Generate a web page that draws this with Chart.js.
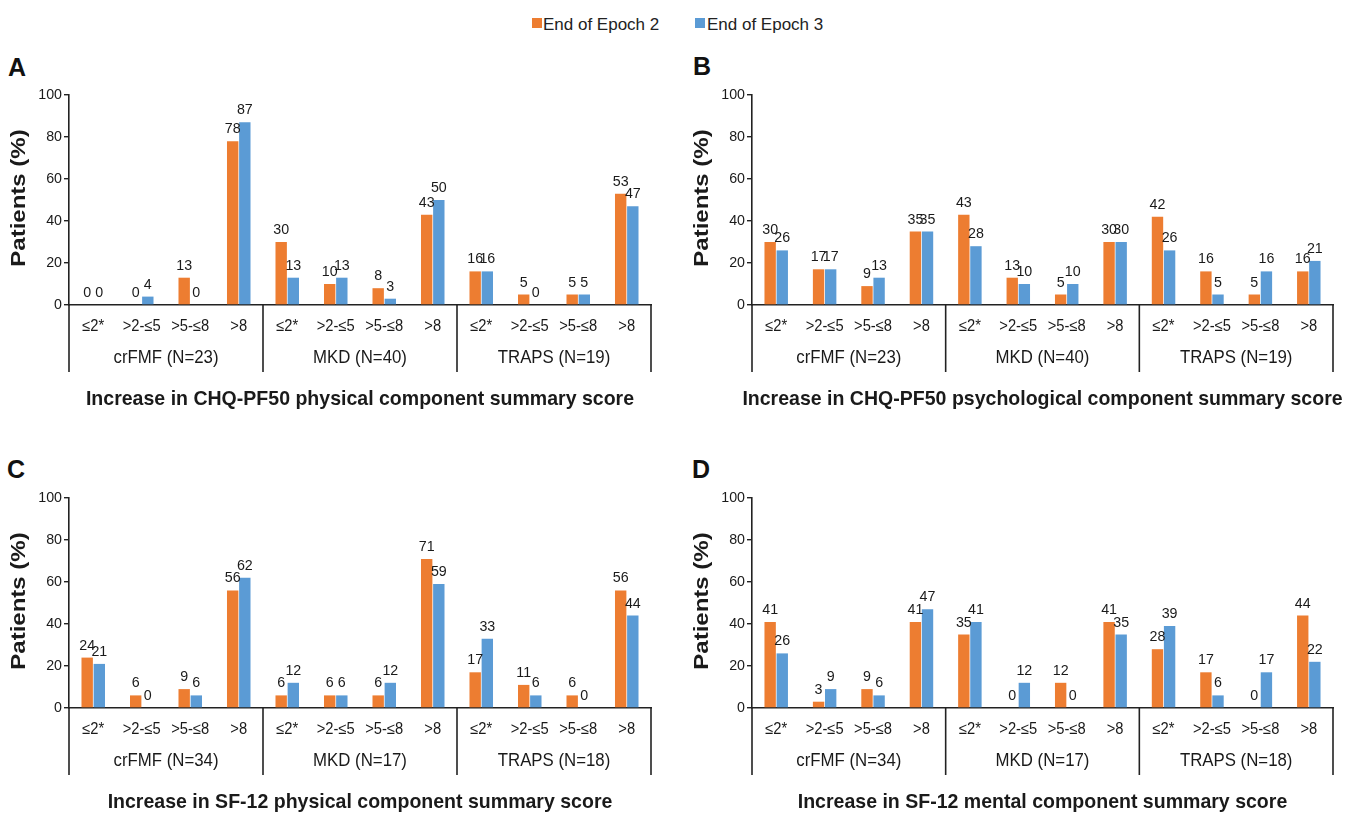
<!DOCTYPE html>
<html>
<head>
<meta charset="utf-8">
<script src="https://cdn.jsdelivr.net/npm/chart.js@4.4.1/dist/chart.umd.min.js"></script>
<style>
html,body{margin:0;padding:0;background:#ffffff;}
body{width:1359px;height:816px;position:relative;overflow:hidden;font-family:"Liberation Sans",Arial,sans-serif;color:#1a1a1a;}
canvas{position:absolute;}
.letter{position:absolute;font-weight:bold;font-size:25px;line-height:25px;color:#111;}
.lg-sq{position:absolute;width:10px;height:10px;top:18px;}
.lg-tx{position:absolute;top:16px;font-size:17px;line-height:17px;color:#222;white-space:nowrap;}
</style>
</head>
<body>
<div class="lg-sq" style="left:532px;background:#ED7D31"></div>
<div class="lg-tx" style="left:543px">End of Epoch 2</div>
<div class="lg-sq" style="left:695px;background:#5B9BD5"></div>
<div class="lg-tx" style="left:707px">End of Epoch 3</div>

<div class="letter" style="left:8px;top:55px">A</div>
<div class="letter" style="left:693px;top:54px">B</div>
<div class="letter" style="left:7px;top:457px">C</div>
<div class="letter" style="left:692px;top:457px">D</div>

<canvas id="cA" width="680" height="373" style="left:0px;top:40px"></canvas>
<canvas id="cB" width="679" height="373" style="left:680px;top:40px"></canvas>
<canvas id="cC" width="680" height="373" style="left:0px;top:443px"></canvas>
<canvas id="cD" width="679" height="373" style="left:680px;top:443px"></canvas>

<script>
// ---------- data ----------
const categories = ['≤2*', '>2-≤5', '>5-≤8', '>8'];
const groupsAB = ['crFMF (N=23)', 'MKD (N=40)', 'TRAPS (N=19)'];
const groupsCD = ['crFMF (N=34)', 'MKD (N=17)', 'TRAPS (N=18)'];
const seriesNames = ['End of Epoch 2', 'End of Epoch 3'];
const yTicks = [0, 20, 40, 60, 80, 100];
const yTitle = 'Patients (%)';

const titleA = 'Increase in CHQ-PF50 physical component summary score';
const titleB = 'Increase in CHQ-PF50 psychological component summary score';
const titleC = 'Increase in SF-12 physical component summary score';
const titleD = 'Increase in SF-12 mental component summary score';

const epoch2A = [0, 0, 13, 78, 30, 10, 8, 43, 16, 5, 5, 53];
const epoch3A = [0, 4, 0, 87, 13, 13, 3, 50, 16, 0, 5, 47];
const epoch2B = [30, 17, 9, 35, 43, 13, 5, 30, 42, 16, 5, 16];
const epoch3B = [26, 17, 13, 35, 28, 10, 10, 30, 26, 5, 16, 21];
const epoch2C = [24, 6, 9, 56, 6, 6, 6, 71, 17, 11, 6, 56];
const epoch3C = [21, 0, 6, 62, 12, 6, 12, 59, 33, 6, 0, 44];
const epoch2D = [41, 3, 9, 41, 35, 0, 12, 41, 28, 17, 0, 44];
const epoch3D = [26, 9, 6, 47, 41, 12, 0, 35, 39, 6, 17, 22];

// ---------- styling ----------
const ORANGE = '#ED7D31';
const BLUE = '#5B9BD5';
const INK = '#1a1a1a';
const FAM = '"Liberation Sans", Arial, sans-serif';

function txt(ctx, s, x, y, font, align, base, sx, rot) {
  ctx.save();
  ctx.translate(x, y);
  if (rot) ctx.rotate(rot);
  ctx.scale(sx || 1, 1);
  ctx.font = font;
  ctx.textAlign = align;
  ctx.textBaseline = base;
  ctx.fillStyle = INK;
  ctx.fillText(s, 0, 0);
  ctx.restore();
}

const decorPlugin = {
  id: 'decor',
  afterDraw(chart, args, opts) {
    const ctx = chart.ctx;
    const ca = chart.chartArea;
    const xs = chart.scales.x;
    const ys = chart.scales.y;
    const base = ys.getPixelForValue(0);

    // y tick labels
    ys.ticks.forEach(t => {
      txt(ctx, String(t.value), ca.left - 7, ys.getPixelForValue(t.value), '15px ' + FAM, 'right', 'middle', 0.95);
    });
    // y title
    txt(ctx, yTitle, ca.left - 49.5, (ca.top + ca.bottom) / 2 - 2, 'bold 20px ' + FAM, 'center', 'middle', 1.2, -Math.PI / 2);

    // category labels
    const n = chart.data.labels.length;
    for (let i = 0; i < n; i++) {
      txt(ctx, chart.data.labels[i], xs.getPixelForValue(i), base + 22, '16px ' + FAM, 'center', 'middle', 0.92);
    }
    // group labels + separators
    ctx.save();
    ctx.strokeStyle = '#222';
    ctx.lineWidth = 1.6;
    const seps = [ca.left];
    for (let g = 1; g < opts.groups.length; g++) {
      seps.push((xs.getPixelForValue(g * 4 - 1) + xs.getPixelForValue(g * 4)) / 2);
    }
    seps.push(ca.right);
    seps.forEach(x => {
      ctx.beginPath();
      ctx.moveTo(x, base);
      ctx.lineTo(x, base + 67);
      ctx.stroke();
    });
    ctx.restore();
    opts.groups.forEach((g, gi) => {
      const cx = (xs.getPixelForValue(gi * 4) + xs.getPixelForValue(gi * 4 + 3)) / 2;
      txt(ctx, g, cx, base + 53, '17.5px ' + FAM, 'center', 'middle', 0.96);
    });
    // x title
    txt(ctx, opts.title, (ca.left + ca.right) / 2, base + 94, 'bold 21px ' + FAM, 'center', 'middle', 0.93);

    // value labels
    chart.data.datasets.forEach((ds, di) => {
      const meta = chart.getDatasetMeta(di);
      meta.data.forEach((bar, i) => {
        txt(ctx, String(ds.data[i]), bar.x, bar.y - 8, '15px ' + FAM, 'center', 'alphabetic', 0.95);
      });
    });
  }
};

const panels = [
  { id: 'cA', title: titleA, groups: groupsAB, e2: epoch2A, e3: epoch3A, leftW: 69, padR: 29 },
  { id: 'cB', title: titleB, groups: groupsAB, e2: epoch2B, e3: epoch3B, leftW: 72, padR: 26 },
  { id: 'cC', title: titleC, groups: groupsCD, e2: epoch2C, e3: epoch3C, leftW: 69, padR: 29 },
  { id: 'cD', title: titleD, groups: groupsCD, e2: epoch2D, e3: epoch3D, leftW: 72, padR: 26 }
];

panels.forEach(p => {
  const labels = [];
  p.groups.forEach(() => categories.forEach(c => labels.push(c)));
  new Chart(document.getElementById(p.id), {
    type: 'bar',
    data: {
      labels: labels,
      datasets: [
        { label: seriesNames[0], data: p.e2, backgroundColor: ORANGE, borderWidth: 0 },
        { label: seriesNames[1], data: p.e3, backgroundColor: BLUE, borderWidth: 0 }
      ]
    },
    options: {
      responsive: false,
      animation: false,
      events: [],
      layout: { padding: { top: 55, right: p.padR, left: 0, bottom: 0 } },
      datasets: { bar: { categoryPercentage: 0.5, barPercentage: 0.94 } },
      scales: {
        x: {
          type: 'category',
          offset: true,
          grid: { display: false },
          border: { display: true, color: '#222', width: 1.6 },
          ticks: { display: false },
          afterFit: s => { s.height = 108; }
        },
        y: {
          min: 0, max: 100,
          afterBuildTicks: s => { s.ticks = yTicks.map(v => ({ value: v })); },
          grid: { display: true, drawOnChartArea: false, drawTicks: true, tickLength: 5, color: '#222', lineWidth: 1.4 },
          border: { display: true, color: '#222', width: 1.6 },
          ticks: { display: false },
          afterFit: s => { s.width = p.leftW; }
        }
      },
      plugins: {
        legend: { display: false },
        tooltip: { enabled: false },
        decor: { title: p.title, groups: p.groups }
      }
    },
    plugins: [decorPlugin]
  });
});
</script>
</body>
</html>
